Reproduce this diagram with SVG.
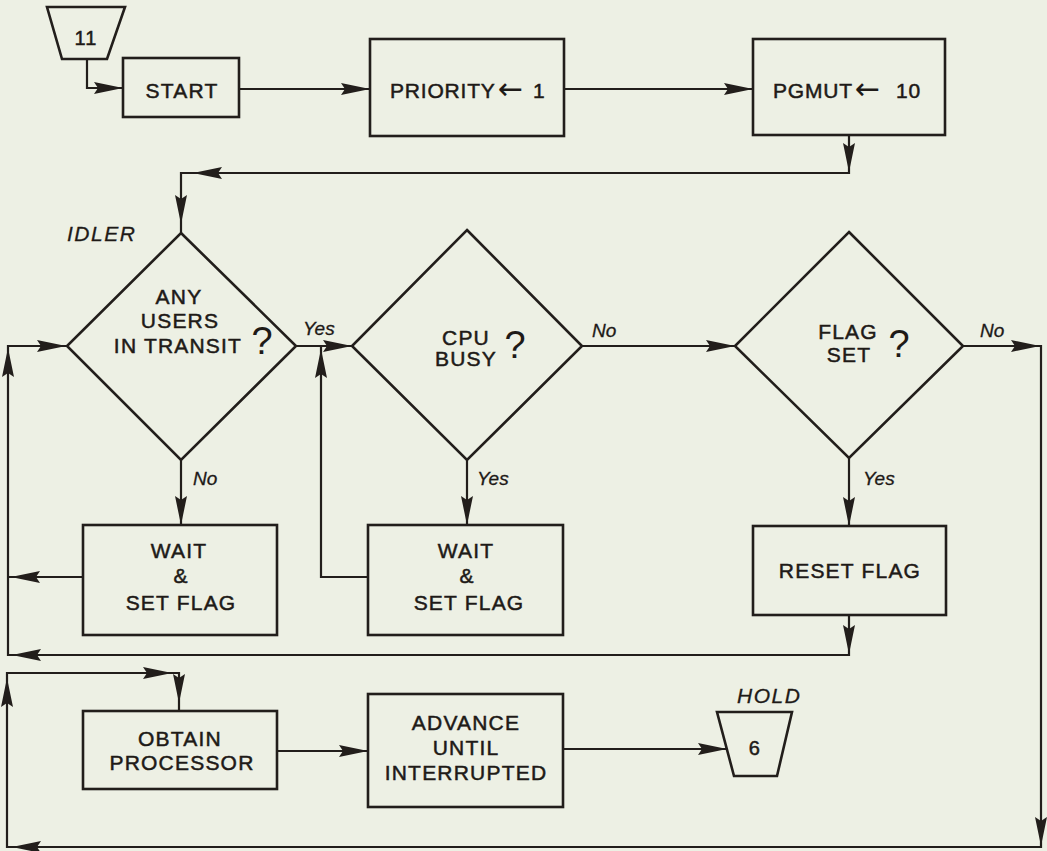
<svg xmlns="http://www.w3.org/2000/svg" xmlns:xlink="http://www.w3.org/1999/xlink" width="1047" height="851" viewBox="0 0 1047 851">
<defs>
<style>
.bg{fill:#edf0e4}
.box{fill:none;stroke:#221e1b;stroke-width:2.6;stroke-linejoin:miter}
.ln{fill:none;stroke:#221e1b;stroke-width:2.2;stroke-linejoin:miter}
.t{font-family:"Liberation Sans","DejaVu Sans",Arial,sans-serif;font-size:21px;fill:#1e1a17;stroke:#1e1a17;stroke-width:0.5;text-anchor:middle;letter-spacing:1.2px}
.arr{font-family:"DejaVu Sans",sans-serif;font-size:30px;stroke:none;letter-spacing:0}
.q{font-family:"Liberation Sans","DejaVu Sans",Arial,sans-serif;font-size:38px;fill:#1e1a17;text-anchor:middle}
.lab{font-family:"Liberation Sans","DejaVu Sans",Arial,sans-serif;font-size:19px;font-style:italic;fill:#1e1a17;stroke:#1e1a17;stroke-width:0.3}
.big{font-family:"Liberation Sans","DejaVu Sans",Arial,sans-serif;font-size:21px;font-style:italic;fill:#1e1a17;stroke:#1e1a17;stroke-width:0.3;letter-spacing:1.5px}
.ah{fill:#221e1b}
</style>
<path id="ah" class="ah" d="M0,0 L-29,-6 L-25,0 L-29,6 Z"/>
</defs>
<rect class="bg" x="0" y="0" width="1047" height="851"/>

<g id="connectors">
<path class="ln" d="M87,59 V88 H123"/>
<path class="ln" d="M239,89 H370"/>
<path class="ln" d="M564,89 H753"/>
<path class="ln" d="M849,135 V173 H181 V233"/>
<path class="ln" d="M67,346 H8 V655 H849 V615"/>
<path class="ln" d="M83,577 H8"/>
<path class="ln" d="M181,460 V525"/>
<path class="ln" d="M296,346 H352"/>
<path class="ln" d="M368,577 H321 V346"/>
<path class="ln" d="M467,460 V525"/>
<path class="ln" d="M582,346 H735"/>
<path class="ln" d="M963,346 H1041 V847 H7 V673 H179 V711"/>
<path class="ln" d="M849,458 V526"/>
<path class="ln" d="M277,751 H368"/>
<path class="ln" d="M563,749 H727"/>
<use xlink:href="#ah" transform="translate(123,88)"/>
<use xlink:href="#ah" transform="translate(370,89)"/>
<use xlink:href="#ah" transform="translate(753,89)"/>
<use xlink:href="#ah" transform="translate(849,172) rotate(90)"/>
<use xlink:href="#ah" transform="translate(193,173) rotate(180)"/>
<use xlink:href="#ah" transform="translate(181,224) rotate(90)"/>
<use xlink:href="#ah" transform="translate(66,346)"/>
<use xlink:href="#ah" transform="translate(8,348) rotate(270)"/>
<use xlink:href="#ah" transform="translate(11,577) rotate(180)"/>
<use xlink:href="#ah" transform="translate(181,525) rotate(90)"/>
<use xlink:href="#ah" transform="translate(352,346)"/>
<use xlink:href="#ah" transform="translate(321,349) rotate(270)"/>
<use xlink:href="#ah" transform="translate(467,525) rotate(90)"/>
<use xlink:href="#ah" transform="translate(735,346)"/>
<use xlink:href="#ah" transform="translate(1040,346)"/>
<use xlink:href="#ah" transform="translate(849,526) rotate(90)"/>
<use xlink:href="#ah" transform="translate(849,654) rotate(90)"/>
<use xlink:href="#ah" transform="translate(12,655) rotate(180)"/>
<use xlink:href="#ah" transform="translate(1041,846) rotate(90)"/>
<use xlink:href="#ah" transform="translate(12,847) rotate(180)"/>
<use xlink:href="#ah" transform="translate(7,678) rotate(270)"/>
<use xlink:href="#ah" transform="translate(172,673)"/>
<use xlink:href="#ah" transform="translate(179,703) rotate(90)"/>
<use xlink:href="#ah" transform="translate(368,751)"/>
<use xlink:href="#ah" transform="translate(727,749)"/>
<text class="lab" x="303" y="335">Yes</text>
<text class="lab" x="193" y="485">No</text>
<text class="lab" x="477" y="485">Yes</text>
<text class="lab" x="592" y="337">No</text>
<text class="lab" x="980" y="337">No</text>
<text class="lab" x="863" y="485">Yes</text>
</g>

<g id="entry11">
<polygon class="box" points="47,7 125,7 107,59 62,59"/>
<text class="t" x="86" y="45" style="font-size:20px">11</text>
</g>

<g id="start">
<rect class="box" x="123" y="58" width="116" height="59"/>
<text class="t" x="182" y="98">START</text>
</g>

<g id="priority">
<rect class="box" x="370" y="39" width="194" height="97"/>
<text class="t" y="98" style="text-anchor:start;letter-spacing:0.8px"><tspan x="390">PRIORITY</tspan><tspan class="arr" x="498" y="99">←</tspan><tspan x="533" y="98">1</tspan></text>
</g>

<g id="pgmut">
<rect class="box" x="753" y="39" width="192" height="96"/>
<text class="t" y="98" style="text-anchor:start;letter-spacing:0.8px"><tspan x="773">PGMUT</tspan><tspan class="arr" x="855" y="99">←</tspan><tspan x="896" y="98">10</tspan></text>
</g>

<g id="idler">
<text class="big" x="67" y="241">IDLER</text>
<polygon class="box" points="181,233 296,346 181,460 67,346"/>
<text class="t" x="179" y="304">ANY</text>
<text class="t" x="180" y="328">USERS</text>
<text class="t" x="178" y="353">IN TRANSIT</text>
<text class="q" x="262" y="354">?</text>
</g>

<g id="wait1">
<rect class="box" x="83" y="525" width="194" height="110"/>
<text class="t" x="179" y="558">WAIT</text>
<text class="t" x="181" y="583">&amp;</text>
<text class="t" x="181" y="610">SET FLAG</text>
</g>

<g id="cpubusy">
<polygon class="box" points="467,230 582,346 467,460 352,346"/>
<text class="t" x="466" y="345">CPU</text>
<text class="t" x="466" y="366">BUSY</text>
<text class="q" x="515" y="358">?</text>
</g>

<g id="wait2">
<rect class="box" x="368" y="525" width="195" height="110"/>
<text class="t" x="466" y="558">WAIT</text>
<text class="t" x="467" y="583">&amp;</text>
<text class="t" x="469" y="610">SET FLAG</text>
</g>

<g id="flagset">
<polygon class="box" points="849,232 963,346 849,458 735,346"/>
<text class="t" x="848" y="339">FLAG</text>
<text class="t" x="849" y="362">SET</text>
<text class="q" x="899" y="357">?</text>
</g>

<g id="resetflag">
<rect class="box" x="753" y="526" width="193" height="89"/>
<text class="t" x="850" y="578">RESET FLAG</text>
</g>

<g id="obtain">
<rect class="box" x="83" y="711" width="194" height="78"/>
<text class="t" x="180" y="746">OBTAIN</text>
<text class="t" x="182" y="770">PROCESSOR</text>
</g>

<g id="advance">
<rect class="box" x="368" y="694" width="195" height="113"/>
<text class="t" x="466" y="730">ADVANCE</text>
<text class="t" x="466" y="755">UNTIL</text>
<text class="t" x="466" y="780">INTERRUPTED</text>
</g>

<g id="hold">
<text class="big" x="737" y="703">HOLD</text>
<polygon class="box" points="717,712 792,712 777,776 734,776"/>
<text class="t" x="755" y="755" style="font-size:20px">6</text>
</g>
</svg>
